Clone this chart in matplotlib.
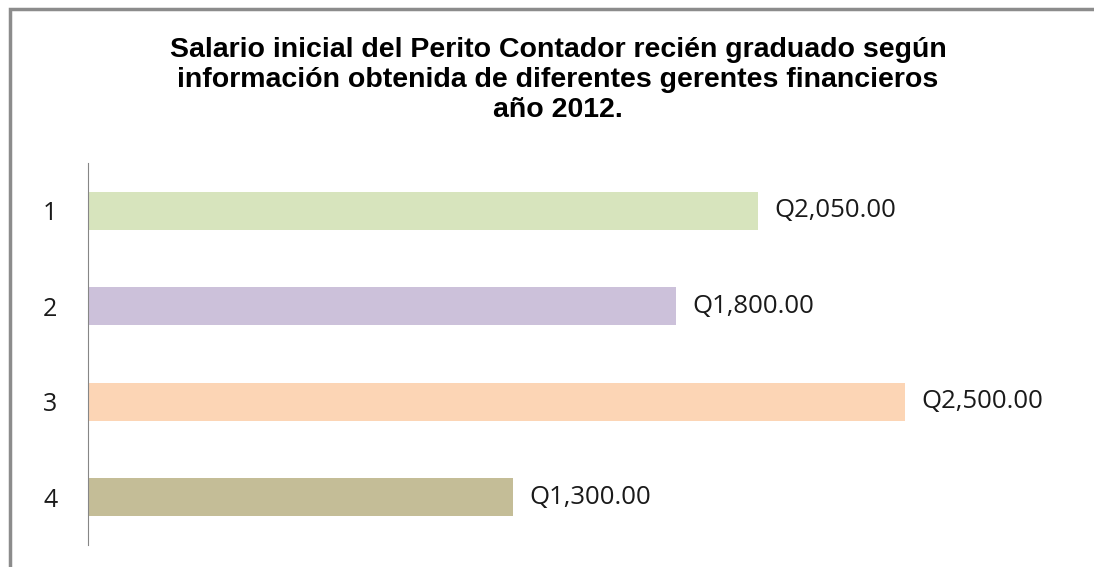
import matplotlib.pyplot as plt
from matplotlib.patches import Rectangle

# data
categorias = ['1', '2', '3', '4']
salarios = [2050, 1800, 2500, 1300]
colores = ['#D7E4BD', '#CCC1DA', '#FCD5B5', '#C4BD97']
titulo = ('Salario inicial del Perito Contador recién graduado según\n'
          'información obtenida de diferentes gerentes financieros\n'
          'año 2012.')

W, H = 1094, 567
fig = plt.figure(figsize=(W / 100, H / 100), dpi=100)

# chart frame
fig.patches.append(Rectangle((10 / W, -0.05), 1.1, 1 - 9 / H + 0.05,
                             transform=fig.transFigure, fill=False,
                             edgecolor='#8C8C8C', linewidth=2.5))

left, right = 88 / W, 1068 / W
bottom, top = 1 - 545 / H, 1 - 163 / H
ax = fig.add_axes([left, bottom, right - left, top - bottom])

pos = list(range(len(categorias)))
ax.barh(pos, salarios, height=0.4, color=colores)
for p, v in zip(pos, salarios):
    ax.text(v + 50, p, f'Q{v:,.2f}', va='center', ha='left',
            fontsize=18.5, family='Open Sans', color='#1a1a1a')

ax.set_xlim(0, 3000)
ax.set_ylim(3.5, -0.5)
ax.set_yticks(pos)
ax.set_yticklabels(categorias, fontsize=18, family='Open Sans', color='#1a1a1a')
ax.tick_params(axis='y', length=0, pad=22)
ax.set_xticks([])
for s in ['top', 'right', 'bottom']:
    ax.spines[s].set_visible(False)
ax.spines['left'].set_color('#868686')

fig.text(558 / W, 1 - 80 / H, titulo, ha='center', va='center',
         fontsize=20.5, fontweight='bold', family='Liberation Sans',
         linespacing=1.22)

fig.savefig('out.png', dpi=100)
